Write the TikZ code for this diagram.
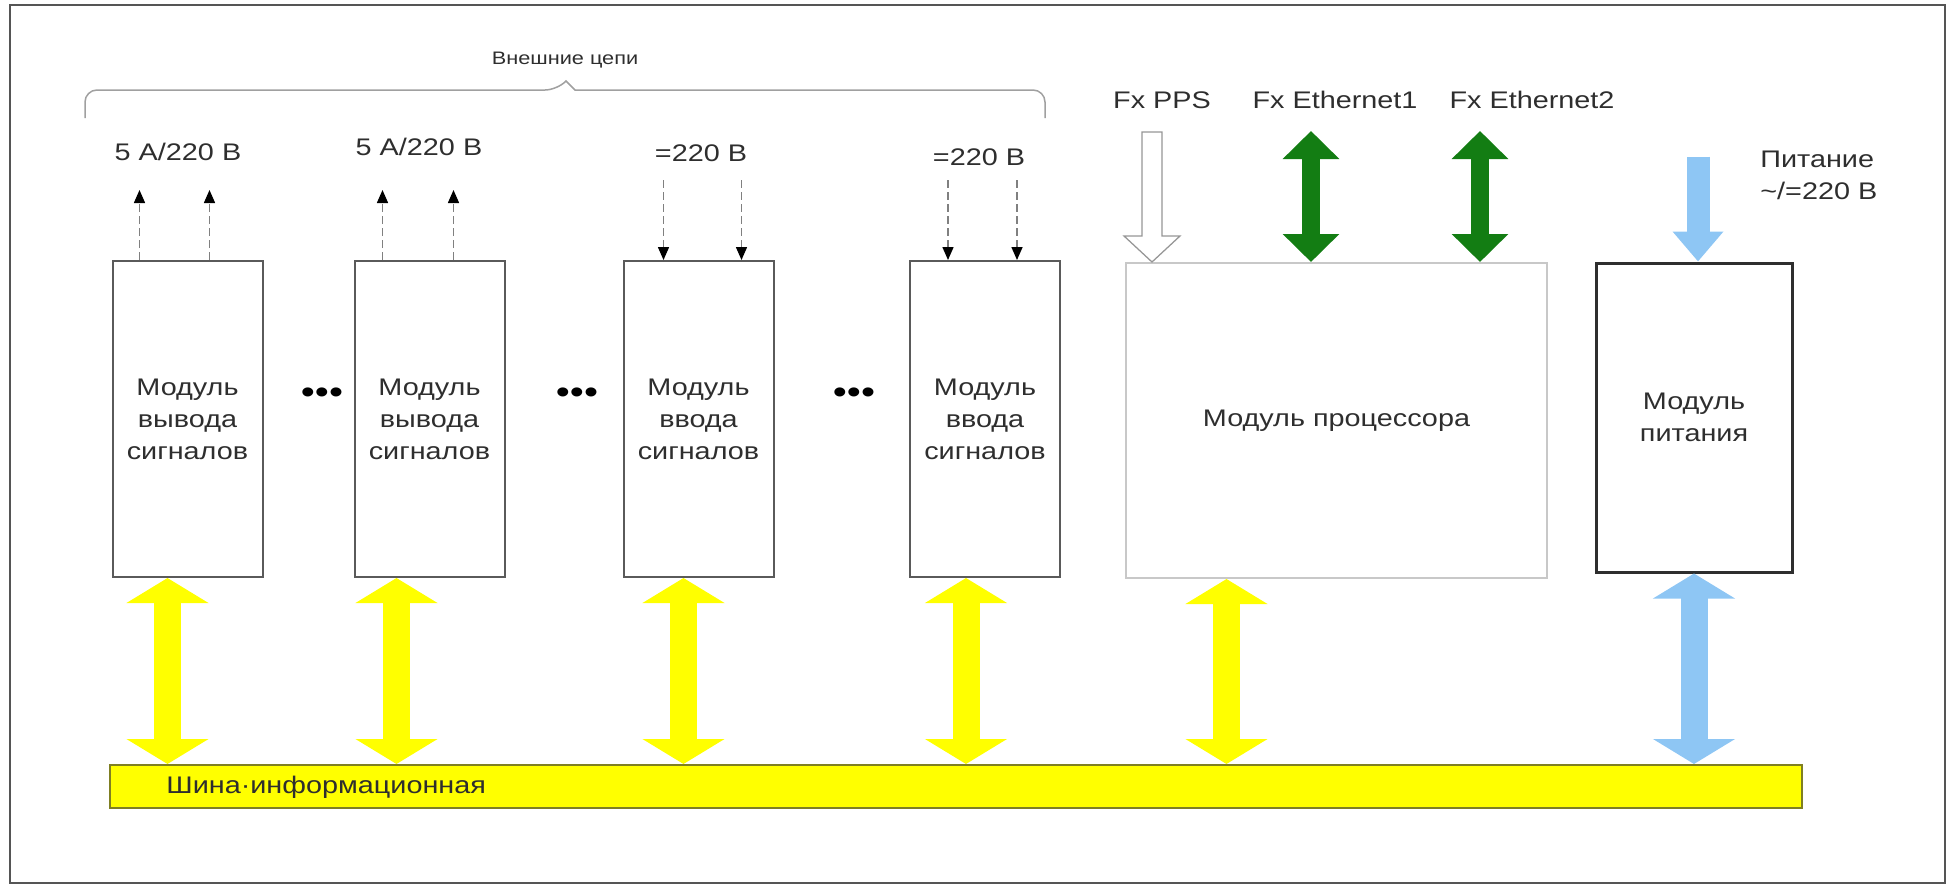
\documentclass[tikz,border=0pt]{standalone}
\usepackage{fontspec}
\setmainfont[FakeStretch=1.2]{Liberation Sans}
\usepackage{tikz}
\usetikzlibrary{arrows.meta, positioning, calc}
\definecolor{framegray}{HTML}{555555}
\definecolor{boxgray}{HTML}{5A5A5A}
\definecolor{procgray}{HTML}{C8C8C8}
\definecolor{inkgray}{HTML}{2E2E2E}
\definecolor{busyellow}{HTML}{FFFF00}
\definecolor{busedge}{HTML}{7F7F22}
\definecolor{pwrblue}{HTML}{8EC6F4}
\definecolor{ethgreen}{HTML}{137D13}
\definecolor{bracegray}{HTML}{A0A0A0}
\tikzset{
  modbox/.style={draw=boxgray, line width=0.4mm, minimum width=30mm, minimum height=63.2mm,
                 align=center, text=inkgray, inner sep=0pt},
  procbox/.style={draw=procgray, line width=0.4mm, minimum width=84.2mm, minimum height=63mm,
                  text=inkgray, inner sep=0pt},
  pwrbox/.style={draw=inkgray, line width=0.6mm, minimum width=39.2mm, minimum height=61.8mm,
                 align=center, text=inkgray, inner sep=0pt},
  busbar/.style={draw=busedge, line width=0.4mm, fill=busyellow,
                 minimum width=338.4mm, minimum height=8.6mm, inner sep=0pt},
  busarrow/.style={draw=busyellow, line width=5.4mm,
                   {Triangle[length=5mm,width=16.2mm]}-{Triangle[length=5mm,width=16.2mm]}},
  pwrlink/.style={busarrow, draw=pwrblue},
  ethlink/.style={draw=ethgreen, line width=3.6mm,
                  {Triangle[length=5.6mm,width=11mm]}-{Triangle[length=5.6mm,width=11mm]}},
  pwrin/.style={draw=pwrblue, line width=4.6mm, -{Triangle[length=6mm,width=9.8mm]}},
  ppsarrow/.style={draw=procgray!75!black, line width=0.25mm, fill=white},
  sigline/.style={draw=gray, line width=0.3mm, dash pattern=on 1.6mm off 0.8mm,
                  -{Triangle[length=2.6mm,width=2.2mm,color=black]}},
  siglabel/.style={text=inkgray, inner sep=0pt},
  gapdots/.style={text=black, inner sep=0pt, font=\fontsize{19pt}{19pt}\selectfont},
  bracepath/.style={draw=bracegray, line width=0.3mm},
}

\begin{document}
\begin{tikzpicture}[x=0.2mm, y=-0.2mm, font=\fontsize{13.66pt}{18.2pt}\selectfont]
\useasboundingbox (0,0) rectangle (1955,887);
\draw[framegray, line width=0.4mm] (10,5) rectangle (1945,883);

% ---- signal modules ----
\node[modbox] (mod1) at (187.5,419) {Модуль\\вывода\\сигналов};
\node[modbox] (mod2) at (429.5,419) {Модуль\\вывода\\сигналов};
\node[modbox] (mod3) at (698.5,419) {Модуль\\ввода\\сигналов};
\node[modbox] (mod4) at (985,419) {Модуль\\ввода\\сигналов};

\node[gapdots] (gap1) at (322,396) {•••};
\node[gapdots] (gap2) at (577,396) {•••};
\node[gapdots] (gap3) at (854,396) {•••};

% ---- processor and power ----
\node[procbox] (proc) at (1336.5,420.5) {Модуль процессора};
\node[pwrbox] (pwr) at (1694,417.5) {Модуль\\питания};

% ---- bus ----
\node[busbar] (bus) at (956,786.5) {};
\node[siglabel, anchor=west] (busname) at (166,787) {Шина·информационная};

% ---- external circuits ----
\draw[bracepath] (85,118) [rounded corners=2.4mm] |- (557,90) [sharp corners] -- (566,81)
      -- (575,90) [rounded corners=2.4mm] -| (1045,118);
\node[siglabel, font=\fontsize{10.3pt}{12pt}\selectfont] (extname) at (565,60) {Внешние цепи};

\node[siglabel] (lbl1) at (178,152) {5 А/220 В};
\node[siglabel] (lbl2) at (419,147) {5 А/220 В};
\node[siglabel] (lbl3) at (701,153) {=220 В};
\node[siglabel] (lbl4) at (979,157) {=220 В};

\draw[sigline] ($(mod1.north)+(-48,0)$) -- ++(0,-70);
\draw[sigline] ($(mod1.north)+(22,0)$) -- ++(0,-70);
\draw[sigline] ($(mod2.north)+(-47,0)$) -- ++(0,-70);
\draw[sigline] ($(mod2.north)+(24,0)$) -- ++(0,-70);
\draw[sigline] ($(mod3.north)+(-35,-80)$) -- ($(mod3.north)+(-35,0)$);
\draw[sigline] ($(mod3.north)+(43,-80)$) -- ($(mod3.north)+(43,0)$);
\draw[sigline] ($(mod4.north)+(-37,-80)$) -- ($(mod4.north)+(-37,0)$);
\draw[sigline] ($(mod4.north)+(32,-80)$) -- ($(mod4.north)+(32,0)$);

% ---- processor inputs ----
\node[siglabel] (ppsname) at (1162,100) {Fx PPS};
\node[siglabel] (eth1name) at (1335,100) {Fx Ethernet1};
\node[siglabel] (eth2name) at (1532,100) {Fx Ethernet2};

\coordinate (ppstip) at ($(proc.north west)+(27,0)$);
\draw[ppsarrow] (ppstip) -- ++(-28,-26) -- ++(18,0) -- ++(0,-104) -- ++(20,0)
      -- ++(0,104) -- ++(18,0) -- cycle;

\coordinate (eth1) at ($(proc.north)+(-25.5,0)$);
\coordinate (eth2) at ($(proc.north)+(143.5,0)$);
\draw[ethlink] ($(eth1)+(0,-131)$) -- (eth1);
\draw[ethlink] ($(eth2)+(0,-131)$) -- (eth2);

% ---- power input ----
\node[siglabel, anchor=west, align=left] (pwrname) at (1760,175) {Питание\\\textasciitilde/=220 В};
\draw[pwrin] ($(pwr.north)+(4,-105)$) -- ($(pwr.north)+(4,0)$);

% ---- links to the bus ----
\coordinate (a1) at ($(mod1.south)+(-20,0)$);
\coordinate (a2) at ($(mod2.south)+(-33,0)$);
\coordinate (a3) at ($(mod3.south)+(-15,0)$);
\coordinate (a4) at ($(mod4.south)+(-19,0)$);
\coordinate (a5) at ($(proc.south)+(-110,0)$);
\foreach \a in {a1,a2,a3,a4,a5}
  \draw[busarrow] (\a) -- (\a |- bus.north);
\draw[pwrlink] (pwr.south) -- (pwr.south |- bus.north);

\end{tikzpicture}
\end{document}
